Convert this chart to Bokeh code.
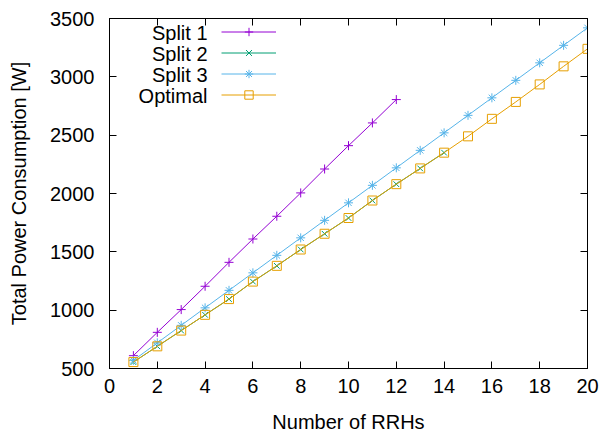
from bokeh.plotting import figure
from bokeh.models import LinearAxis, Legend, LegendItem, Range1d, FixedTicker, CustomJSTickFormatter, Label
from bokeh.embed import file_html
from bokeh.resources import INLINE

x_split1 = list(range(1, 13))
split1 = [610, 810, 1005, 1205, 1410, 1610, 1805, 2005, 2210, 2410, 2605, 2805]

x_split2 = list(range(1, 15))
split2 = [555, 690, 825, 960, 1095, 1245, 1380, 1520, 1655, 1790, 1940, 2080, 2215, 2350]

x_split3 = list(range(1, 21))
split3 = [570, 720, 870, 1020, 1170, 1320, 1470, 1620, 1770, 1920,
          2070, 2220, 2370, 2520, 2670, 2820, 2970, 3120, 3270, 3420]

x_opt = list(range(1, 21))
optimal = [555, 690, 825, 960, 1095, 1245, 1380, 1520, 1655, 1790,
           1940, 2080, 2215, 2350, 2490, 2640, 2785, 2935, 3090, 3240]

series_names = ["Split 1", "Split 2", "Split 3", "Optimal"]

x_ticks = list(range(0, 21, 2))
y_ticks = list(range(500, 3501, 500))

FONT = "Liberation Sans"
FS = "20px"

p = figure(width=600, height=435, output_backend="svg", toolbar_location=None,
           x_range=Range1d(0, 20), y_range=Range1d(500, 3500),
           min_border_left=109, min_border_right=13, min_border_top=18, min_border_bottom=66)
p.xgrid.visible = False
p.ygrid.visible = False
p.outline_line_color = "black"
p.outline_line_width = 1

xa = p.xaxis[0]
xa.ticker = FixedTicker(ticks=x_ticks)
ya = p.yaxis[0]
ya.ticker = FixedTicker(ticks=y_ticks)
for ax in (xa, ya):
    ax.major_tick_in = 7
    ax.major_tick_out = 0
    ax.minor_tick_line_color = None
    ax.major_label_text_font = FONT
    ax.major_label_text_font_size = FS
    ax.major_label_text_color = "black"
    ax.axis_label_text_font = FONT
    ax.axis_label_text_font_size = FS
    ax.axis_label_text_font_style = "normal"
    ax.axis_label_text_color = "black"
xa.axis_label = "Number of RRHs"
ya.axis_label = "Total Power Consumption [W]"
xa.major_label_standoff = 10
ya.major_label_standoff = 15
xa.axis_label_standoff = 15
ya.axis_label_standoff = 17

blank = CustomJSTickFormatter(code="return ''")
top = LinearAxis(ticker=FixedTicker(ticks=x_ticks), major_tick_in=7, major_tick_out=0,
                 minor_tick_line_color=None, formatter=blank, major_label_standoff=0)
right = LinearAxis(ticker=FixedTicker(ticks=y_ticks), major_tick_in=7, major_tick_out=0,
                   minor_tick_line_color=None, formatter=blank, major_label_standoff=0)
p.add_layout(top, "above")
p.add_layout(right, "right")

c1, c2, c3, c4 = "#9400d3", "#009e73", "#56b4e9", "#e69f00"

l1 = p.line(x_split1, split1, line_color=c1, line_width=1)
m1 = p.scatter(x_split1, split1, marker="cross", size=9, line_color=c1, line_width=1)
l2 = p.line(x_split2, split2, line_color=c2, line_width=1)
m2 = p.scatter(x_split2, split2, marker="x", size=8, line_color=c2, line_width=1)
l3 = p.line(x_split3, split3, line_color=c3, line_width=1)
m3 = p.scatter(x_split3, split3, marker="asterisk", size=9, line_color=c3, line_width=1)
l4 = p.line(x_opt, optimal, line_color=c4, line_width=1)
m4 = p.scatter(x_opt, optimal, marker="square", size=9, line_color=c4, fill_color=None, line_width=1)

# legend: glyph samples via Legend (blank labels), text right-aligned to their left
legend = Legend(items=[
    LegendItem(label=" ", renderers=[l1, m1]),
    LegendItem(label=" ", renderers=[l2, m2]),
    LegendItem(label=" ", renderers=[l3, m3]),
    LegendItem(label=" ", renderers=[l4, m4]),
], location=(112, 263), background_fill_alpha=0, border_line_color=None,
   label_text_font=FONT, label_text_font_size=FS, label_standoff=0,
   glyph_width=55, glyph_height=21, spacing=0, padding=0, margin=0, label_height=21)
p.add_layout(legend, "center")

for i, name in enumerate(series_names):
    p.add_layout(Label(x=98, y=336 - 21 * i, x_units="screen", y_units="screen",
                       text=name, text_align="right", text_baseline="middle",
                       text_font=FONT, text_font_size=FS, text_color="black"))

open("out.html", "w").write(file_html(p, INLINE))
